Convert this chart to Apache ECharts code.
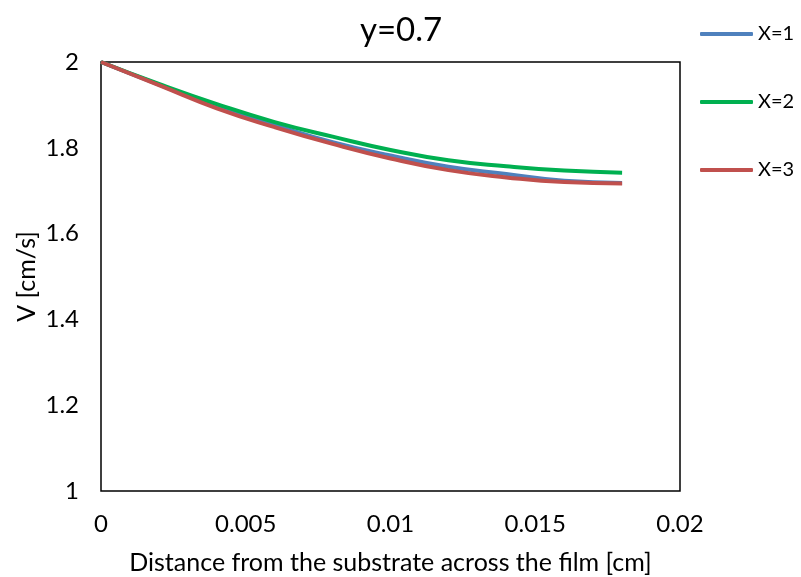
<!DOCTYPE html>
<html>
<head>
<meta charset="utf-8">
<script src="https://cdn.jsdelivr.net/npm/echarts@6/dist/echarts.min.js"></script>
<style>html,body{margin:0;padding:0;background:#fff;}#c{width:801px;height:577px;}</style>
</head>
<body>
<div id="c"></div>
<script>
var xValues = [0, 0.002, 0.004, 0.006, 0.008, 0.010, 0.012, 0.014, 0.016, 0.018];
var seriesX1 = [2.0, 1.947, 1.896, 1.853, 1.813, 1.782, 1.756, 1.739, 1.723, 1.718];
var seriesX2 = [2.0, 1.949, 1.902, 1.860, 1.826, 1.795, 1.771, 1.757, 1.747, 1.742];
var seriesX3 = [2.0, 1.946, 1.892, 1.848, 1.809, 1.775, 1.748, 1.731, 1.720, 1.717];
var seriesNames = ['X=1', 'X=2', 'X=3'];
var titleText = 'y=0.7';
var xAxisName = 'Distance from the substrate across the film [cm]';
var yAxisName = 'V [cm/s]';

function pairs(ys) { return xValues.map(function (x, i) { return [x, ys[i]]; }); }
var colors = ['#4F81BD', '#00B050', '#C0504D'];
var FONT = 'Lato';

var chart = echarts.init(document.getElementById('c'));
chart.setOption({
  animation: false,
  title: { text: titleText, left: 396, top: 9, textAlign: 'center',
    textStyle: { fontFamily: FONT, fontSize: 33, fontWeight: 'normal', color: '#000' } },
  legend: {
    orient: 'vertical', left: 697, top: 21, itemWidth: 53, itemHeight: 4, itemGap: 48,
    icon: 'roundRect', padding: 3,
    textStyle: { fontFamily: FONT, fontSize: 20, color: '#000' },
    data: seriesNames
  },
  grid: { left: 101, right: 121, top: 62, bottom: 86, show: true, borderColor: '#000', borderWidth: 1.5,
    backgroundColor: 'transparent', containLabel: false, outerBoundsMode: 'none' },
  xAxis: {
    type: 'value', min: 0, max: 0.02, interval: 0.005,
    name: xAxisName, nameLocation: 'middle', nameGap: 59, nameMoveOverlap: false,
    nameTextStyle: { fontFamily: FONT, fontSize: 25, color: '#000' },
    axisLine: { show: false }, axisTick: { show: false }, splitLine: { show: false },
    axisLabel: { fontFamily: FONT, fontSize: 24, color: '#000', margin: 21 }
  },
  yAxis: {
    type: 'value', min: 1, max: 2, interval: 0.2,
    name: yAxisName, nameLocation: 'middle', nameGap: 62, nameRotate: 90, nameMoveOverlap: false,
    nameTextStyle: { fontFamily: FONT, fontSize: 25, color: '#000' },
    axisLine: { show: false }, axisTick: { show: false }, splitLine: { show: false },
    axisLabel: { fontFamily: FONT, fontSize: 24, color: '#000', margin: 22 }
  },
  series: [
    { name: seriesNames[0], type: 'line', data: pairs(seriesX1), smooth: true, symbol: 'none', lineStyle: { color: colors[0], width: 4 }, itemStyle: { color: colors[0] } },
    { name: seriesNames[1], type: 'line', data: pairs(seriesX2), smooth: true, symbol: 'none', lineStyle: { color: colors[1], width: 4 }, itemStyle: { color: colors[1] } },
    { name: seriesNames[2], type: 'line', data: pairs(seriesX3), smooth: true, symbol: 'none', lineStyle: { color: colors[2], width: 4 }, itemStyle: { color: colors[2] } }
  ]
});
</script>
</body>
</html>
